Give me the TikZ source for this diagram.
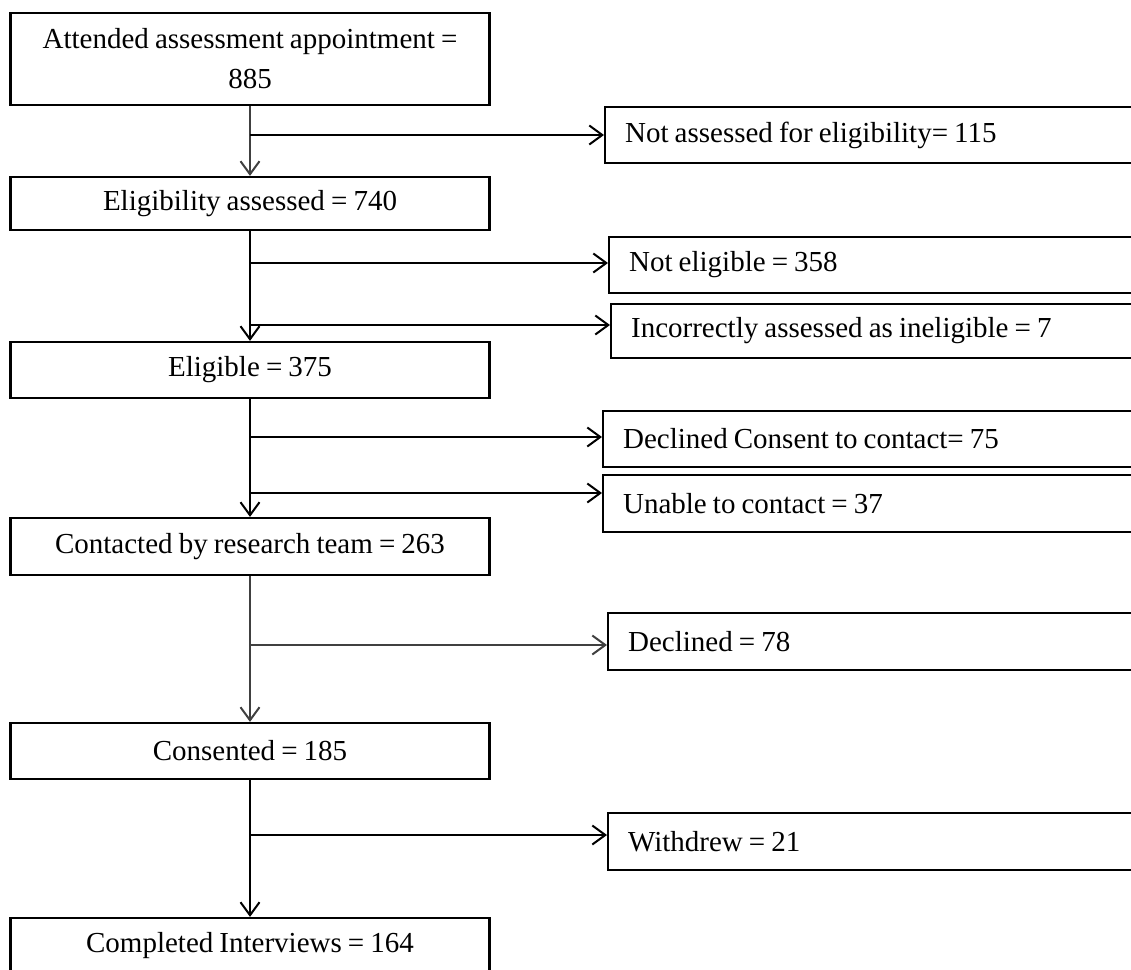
\documentclass[tikz,border=0pt]{standalone}
\usepackage{fontspec}
\setmainfont{Liberation Serif}
\usetikzlibrary{arrows.meta, positioning}
\newcommand{\flowfont}{\fontsize{29}{40}\selectfont\spaceskip=0.21em plus 0.05em\relax}

\begin{document}
\begin{tikzpicture}[
  x=1pt, y=-1pt,
  mainbox/.style={draw,rectangle,line width=2.2pt,minimum width=479pt,align=center,inner sep=0pt,font=\flowfont},
  sidebox/.style={draw,rectangle,line width=2.2pt,anchor=west,text width=540pt,inner xsep=20pt,inner ysep=0pt,align=flush left,font=\flowfont},
  flow/.style={line width=2pt},
  greyflow/.style={line width=2pt,draw=black!75},
  >={Straight Barb[length=13pt,width=19pt]}
]
\useasboundingbox (0,0) rectangle (1131,969);
\clip (0,0) rectangle (1131,969);

% Nodes
\node[mainbox, minimum height=92pt] (attend) at (250,59) {Attended assessment appointment =\\885};
\node[mainbox, minimum height=53pt] (assessed) at (250,203.5) {Eligibility assessed = 740};
\node[mainbox, minimum height=56pt] (eligible) at (250,370) {Eligible = 375};
\node[mainbox, minimum height=57pt] (contacted) at (250,546.5) {Contacted by research team = 263};
\node[mainbox, minimum height=56pt] (consented) at (250,751) {Consented = 185};
\node[mainbox, minimum height=56pt] (completed) at (250,946) {Completed Interviews = 164};

\node[sidebox, minimum height=56pt] (notassessed) at (604,135) {Not assessed for eligibility= 115};
\node[sidebox, minimum height=56pt] (noteligible) at (608,265) {Not eligible = 358};
\node[sidebox, minimum height=54pt] (incorrect) at (610,331) {Incorrectly assessed as ineligible = 7};
\node[sidebox, minimum height=56pt] (declconsent) at (602,439) {Declined Consent to contact= 75};
\node[sidebox, minimum height=57pt] (unable) at (602,503.5) {Unable to contact = 37};
\node[sidebox, minimum height=57pt] (declined) at (607,641.5) {Declined = 78};
\node[sidebox, minimum height=57pt] (withdrew) at (607,841.5) {Withdrew = 21};

% Branch points on the trunk
\coordinate (b1) at (250,135);
\coordinate (b2) at (250,263);
\coordinate (b3) at (250,325);
\coordinate (b4) at (250,437);
\coordinate (b5) at (250,493);
\coordinate (b6) at (250,645);
\coordinate (b7) at (250,835);

% Connections
\draw[greyflow,->] (attend) -- (assessed);
\draw[flow,->] (assessed) -- (eligible);
\draw[flow,->] (eligible) -- (contacted);
\draw[greyflow,->] (contacted) -- (consented);
\draw[flow,->] (consented) -- (completed);

\draw[flow,->] (b1) -- (b1 -| notassessed.west);
\draw[flow,->] (b2) -- (b2 -| noteligible.west);
\draw[flow,->] (b3) -- (b3 -| incorrect.west);
\draw[flow,->] (b4) -- (b4 -| declconsent.west);
\draw[flow,->] (b5) -- (b5 -| unable.west);
\draw[greyflow,->] (b6) -- (b6 -| declined.west);
\draw[flow,->] (b7) -- (b7 -| withdrew.west);

\end{tikzpicture}
\end{document}
